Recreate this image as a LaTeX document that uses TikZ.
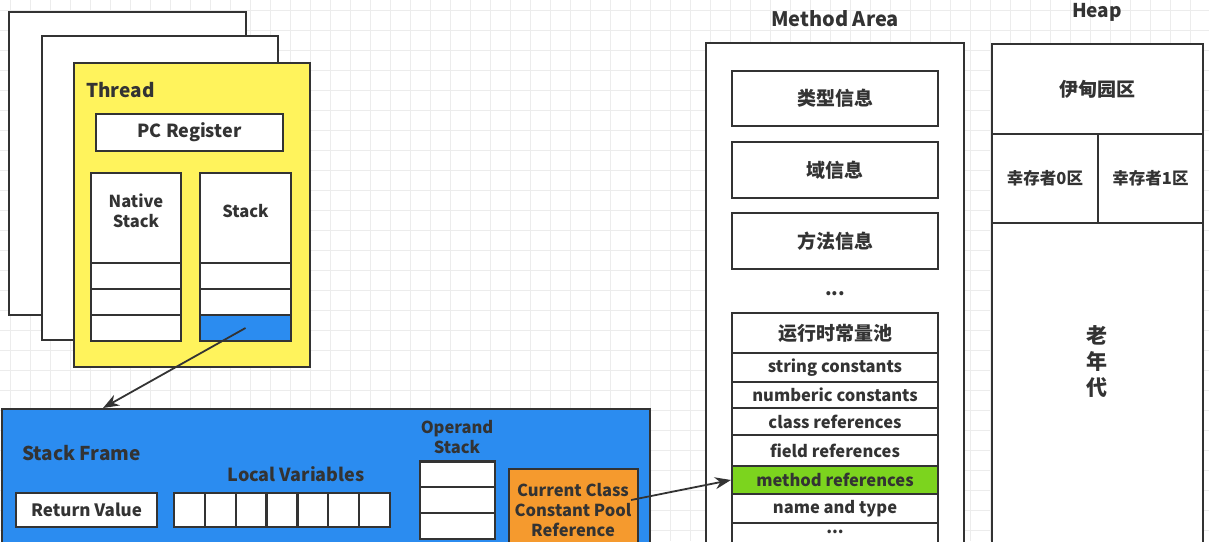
\documentclass[tikz,border=0pt]{standalone}
\usepackage{fontspec}
\setmainfont{Noto Sans CJK SC}
\usetikzlibrary{arrows.meta}
\definecolor{ink}{HTML}{333333}
\definecolor{gridgray}{HTML}{ECECEC}
\definecolor{threadyellow}{HTML}{FFF35C}
\definecolor{frameblue}{HTML}{2B8CF0}
\definecolor{poolorange}{HTML}{F59A2E}
\definecolor{refgreen}{HTML}{7CD41E}
\begin{document}
\begin{tikzpicture}[x=1pt,y=-1pt,
  box/.style={draw=ink,line width=2.2pt,fill=white,inner sep=0pt,text=ink,align=center,font=\bfseries\fontsize{18}{21}\selectfont},
  lbl/.style={text=ink,inner sep=0pt,align=center,font=\bfseries\fontsize{19}{22}\selectfont},
  small/.style={font=\bfseries\fontsize{16.5}{20}\selectfont},
  cjk/.style={font=\bfseries\fontsize{19}{22}\selectfont},
  ptr/.style={draw=ink,line width=1.8pt,-{Stealth[length=16pt,width=12pt]}}]
\useasboundingbox (0,0) rectangle (1209,541);
\clip (0,0) rectangle (1209,541);
%background grid
\foreach \gx in {10,30,...,1210} \draw[gridgray,line width=0.8pt] (\gx,0) -- (\gx,541);
\foreach \gy in {10,30,...,550} \draw[gridgray,line width=0.8pt] (0,\gy) -- (1209,\gy);
% threads
\node[box,minimum width=237pt,minimum height=303pt] (thread3) at (127.5,163.5) {};
\node[box,minimum width=236pt,minimum height=304pt] (thread2) at (160,188) {};
\node[box,fill=threadyellow,minimum width=236pt,minimum height=304pt] (thread) at (192,215) {};
\node[lbl,anchor=west] (threadlbl) at (86,90) {Thread};
\node[box,minimum width=187pt,minimum height=37pt] (pc) at (189.5,132.5) {PC Register};
\node[box,minimum width=90pt,minimum height=90pt] (nstack) at (136,218) {};
\node[box,minimum width=91pt,minimum height=90pt] (stack) at (245.5,218) {};
\node[lbl,small] (nstacklbl) at (136,211) {Native\\Stack};
\node[lbl,small] (stacklbl) at (245.5,211) {Stack};
\foreach \i/\cy in {1/276,2/302,3/328}
  \node[box,minimum width=90pt,minimum height=26pt] (ncell\i) at (136,\cy) {};
\foreach \i/\cy in {1/276,2/302}
  \node[box,minimum width=91pt,minimum height=26pt] (scell\i) at (245.5,\cy) {};
\node[box,fill=frameblue,minimum width=91pt,minimum height=26pt] (scell3) at (245.5,328) {};
% stack frame
\node[box,fill=frameblue,minimum width=648pt,minimum height=136pt] (frame) at (326,477) {};
\coordinate (frametop) at (103,408);
\draw[ptr] (scell3.center) -- (frametop);
\node[lbl,anchor=west] (framelbl) at (22,453) {Stack Frame};
\node[lbl,font=\bfseries\fontsize{18}{21}\selectfont] (localslbl) at (296,474) {Local Variables};
\node[box,font=\bfseries\fontsize{17}{20}\selectfont,minimum width=141pt,minimum height=34pt] (retval) at (86.5,510) {Return Value};
\foreach \i in {1,...,7}
  \node[box,minimum width=30.9pt,minimum height=34pt] (local\i) at ({174+30.86*(\i-0.5)},510) {};
\node[lbl,small] (operandlbl) at (457,437) {Operand\\Stack};
\foreach \i/\cy in {1/474.5,2/500,3/526}
  \node[box,minimum width=75pt,minimum height=26pt] (operand\i) at (457.5,\cy) {};
\node[box,fill=poolorange,minimum width=129pt,minimum height=80pt] (pool) at (573.5,509) {};
\node[lbl,small] (poollbl) at (573,510) {Current Class\\Constant Pool\\Reference};
% method area
\node[lbl,font=\bfseries\fontsize{20}{23}\selectfont] (malbl) at (835,19) {Method Area};
\node[box,minimum width=258pt,minimum height=520pt] (marea) at (835,303) {};
\foreach \n/\cy/\h/\t in {typeinfo/98.5/55/类型信息,fieldinfo/170/56/域信息,methodinfo/241/56/方法信息}
  \node[box,cjk,minimum width=206pt,minimum height=\h pt] (\n) at (835,\cy) {\t};
\node[lbl] (madots) at (835,294) {...};
\node[box,cjk,minimum width=206pt,minimum height=40pt] (rcpool) at (835,333) {运行时常量池};
\foreach \n/\cy/\h/\t in {strconst/367.5/29/string constants,numconst/395/26/numberic constants,classref/421.5/27/class references,fieldref/450.5/31/field references,nametype/508.5/29/name and type}
  \node[box,small,minimum width=206pt,minimum height=\h pt] (\n) at (835,\cy) {\t};
\node[box,small,fill=refgreen,minimum width=206pt,minimum height=28pt] (methodref) at (835,480) {method references};
\node[box,small,minimum width=206pt,minimum height=29pt,text depth=12pt] (pooldots) at (835,537.5) {...};
\draw[ptr] ([xshift=-8pt,yshift=9pt]pool.east) -- (methodref.west);
% heap
\node[lbl] (heaplbl) at (1097,12) {Heap};
\node[box,minimum width=211pt,minimum height=520pt] (heap) at (1097.5,304) {};
\node[box,cjk,minimum width=211pt,minimum height=90pt] (eden) at (1097.5,89) {伊甸园区};
\node[box,small,minimum width=106pt,minimum height=89pt] (surv0) at (1045,178.5) {幸存者0区};
\node[box,small,minimum width=105pt,minimum height=89pt] (surv1) at (1150.5,178.5) {幸存者1区};
\node[lbl,font=\bfseries\fontsize{21}{26}\selectfont] (oldgen) at (1097,362) {老\\年\\代};
\end{tikzpicture}
\end{document}
